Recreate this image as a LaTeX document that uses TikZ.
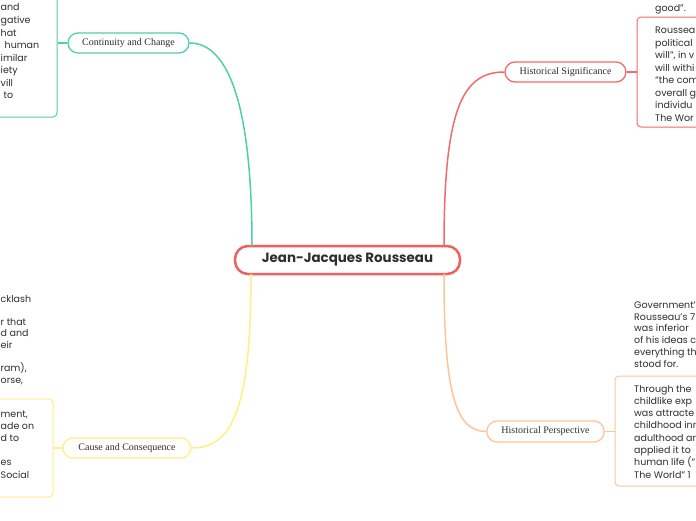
\documentclass[tikz,border=0pt]{standalone}
\usepackage{fontspec}
\setmainfont{Liberation Serif}
\newfontfamily\pop{Poppins}
\definecolor{cgreen}{HTML}{50D0A4}
\definecolor{cred}{HTML}{F26B6B}
\definecolor{ccenter}{HTML}{F0605C}
\definecolor{cyellow}{HTML}{FFEF85}
\definecolor{corange}{HTML}{FFC59A}
\definecolor{textc}{HTML}{2E2E2E}
\begin{document}
\begin{tikzpicture}[x=1pt,y=-1pt,
  topic/.style={draw, rounded corners=10pt, line width=1.3pt, fill=white,
    font=\fontsize{10}{12}\selectfont, text=textc, inner sep=0pt, minimum height=20pt},
  mainnode/.style={draw=ccenter, rounded corners=13pt, line width=2.5pt, fill=white,
    font=\pop\bfseries\fontsize{13.4}{16}\selectfont, text=textc, inner sep=0pt,
    minimum width=225pt, minimum height=28pt},
  tbox/.style={draw, rounded corners=4pt, line width=1pt, inner sep=0pt},
  tl/.style={anchor=base west, inner sep=0pt, font=\pop\fontsize{9.5}{12}\selectfont, text=textc},
  conn/.style={line width=1.5pt}]
\useasboundingbox (0,0) rectangle (696,520);
\fill[white] (0,0) rectangle (696,520);

% text boxes
\node[tbox, draw=cgreen, minimum width=87pt, minimum height=147pt] (ccbox) at (13.5,43.5) {};
\node[tbox, draw=cyellow, minimum width=83pt, minimum height=98pt] (cqbox) at (11.5,448) {};
\node[tbox, draw=cred, minimum width=93pt, minimum height=110pt] (hsbox) at (683.5,72) {};
\node[tbox, draw=corange, minimum width=115pt, minimum height=110pt] (hpbox) at (672.5,431) {};

% main and topic nodes
\node[mainnode] (main) at (347.5,260) {Jean-Jacques Rousseau};
\node[topic, draw=cgreen, minimum width=121pt] (cc) at (128.5,43) {Continuity and Change};
\node[topic, draw=cred, minimum width=121pt] (hs) at (565.5,72) {Historical Significance};
\node[topic, draw=cyellow, minimum width=128pt] (cq) at (127,448) {Cause and Consequence};
\node[topic, draw=corange, minimum width=117pt, minimum height=21pt] (hp) at (545.5,431.5) {Historical Perspective};

% curve anchor points on main node
\coordinate (mg) at (252,246);
\coordinate (mr) at (444,246);
\coordinate (my) at (251,274);
\coordinate (mo) at (444,274);

% connectors
\draw[conn, cgreen] (cc.east) .. controls (230,43) and (252,110) .. (mg);
\draw[conn, cred] (hs.west) .. controls (462,72) and (444,110) .. (mr);
\draw[conn, cyellow] (cq.east) .. controls (232,448) and (251,410) .. (my);
\draw[conn, corange] (hp.west) .. controls (456,431.5) and (444,395) .. (mo);
\draw[conn, cgreen] (cc.west) -- (cc.west -| ccbox.east);
\draw[conn, cred] (hs.east) -- (hs.east -| hsbox.west);
\draw[conn, cyellow] (cq.west) -- (cq.west -| cqbox.east);
\draw[conn, corange] (hp.east) -- (hp.east -| hpbox.west);

% Continuity and Change text
\node[tl] (a1) at (0.5,10.5) {and};
\node[tl] (a2) at (0.5,23.5) {gative};
\node[tl] (a3) at (0.5,36) {hat};
\node[tl] (a4) at (4.5,48.5) {human};
\node[tl] (a5) at (0.5,61) {imilar};
\node[tl] (a6) at (0.5,73.5) {iety};
\node[tl] (a7) at (0.5,86) {vill};
\node[tl] (a8) at (3.5,98.5) {to};

% lower-left text
\node[tl] (b1) at (0.5,302) {cklash};
\node[tl] (b2) at (0.5,325) {r that};
\node[tl] (b3) at (0.5,336.5) {d and};
\node[tl] (b4) at (0.5,348) {eir};
\node[tl] (b5) at (0.5,371.5) {ram),};
\node[tl] (b6) at (0.5,383) {orse,};

% Cause and Consequence text
\node[tl] (c1) at (0.5,417) {ment,};
\node[tl] (c2) at (0.5,429) {ade on};
\node[tl] (c3) at (0.5,441) {d to};
\node[tl] (c4) at (0.5,465.5) {es};
\node[tl] (c5) at (0.5,478) {Social};

% Historical Significance text
\node[tl] (d0) at (655,11) {good”.};
\node[tl] (d1) at (655,33.5) {Roussea};
\node[tl] (d2) at (655,46) {political};
\node[tl] (d3) at (655,58.5) {will”, in v};
\node[tl] (d4) at (655,71) {will withi};
\node[tl] (d5) at (655,83.5) {“the com};
\node[tl] (d6) at (655,96) {overall g};
\node[tl] (d7) at (655,108.5) {individu};
\node[tl] (d8) at (655,121) {The Wor};

% Government text
\node[tl] (e1) at (634,308) {Government’};
\node[tl] (e2) at (634,320) {Rousseau’s 7};
\node[tl] (e3) at (634,331.5) {was inferior};
\node[tl] (e4) at (634,343.5) {of his ideas c};
\node[tl] (e5) at (634,355.5) {everything th};
\node[tl] (e6) at (634,367.5) {stood for.};

% Historical Perspective text
\node[tl] (f1) at (634,392) {Through the};
\node[tl] (f2) at (634,404.3) {childlike exp};
\node[tl] (f3) at (634,416.6) {was attracte};
\node[tl] (f4) at (634,428.9) {childhood inn};
\node[tl] (f5) at (634,441.2) {adulthood ar};
\node[tl] (f6) at (634,453.5) {applied it to};
\node[tl] (f7) at (634,465.8) {human life (“};
\node[tl] (f8) at (634,478.1) {The World” 1};
\end{tikzpicture}
\end{document}
